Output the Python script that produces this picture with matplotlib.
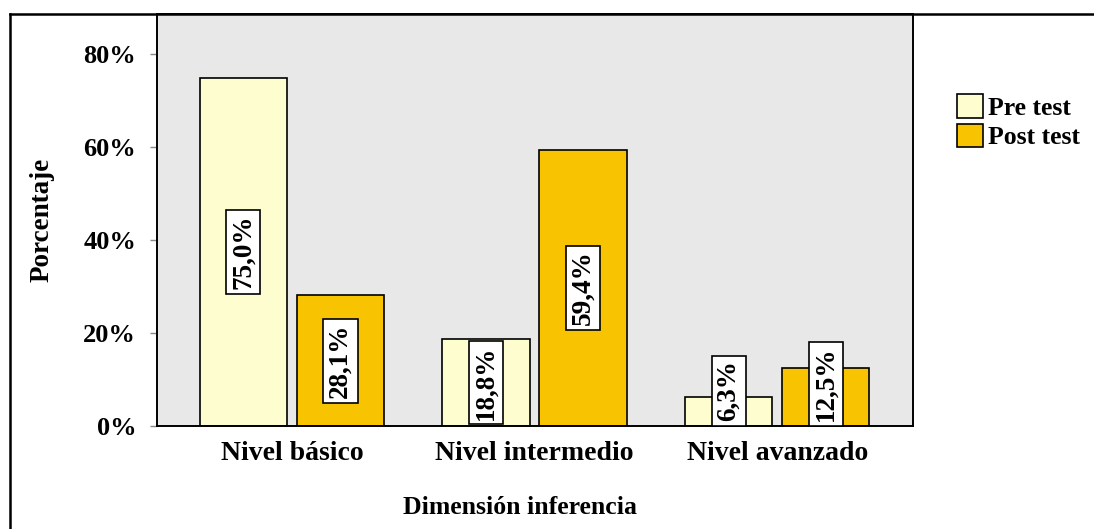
import matplotlib
matplotlib.use("Agg")
import matplotlib.pyplot as plt
from matplotlib.lines import Line2D
from matplotlib.patches import Patch
import numpy as np

# Data
categories = ["Nivel básico", "Nivel intermedio", "Nivel avanzado"]
pre_test = [75.0, 18.8, 6.3]
post_test = [28.1, 59.4, 12.5]
series_names = ["Pre test", "Post test"]
y_ticks = [0, 20, 40, 60, 80]

# Styling
pre_color = "#fdfdcf"
post_color = "#f8c300"
plot_bg = "#e8e8e8"
font = "Liberation Serif"

plt.rcParams["font.family"] = [font, "DejaVu Serif"]
plt.rcParams["font.weight"] = "bold"

W, H = 1094, 529
fig = plt.figure(figsize=(W / 100, H / 100), dpi=100)
ax = fig.add_axes([157 / W, 1 - 426 / H, (913 - 157) / W, (426 - 14) / H])
ax.set_facecolor(plot_bg)

x = np.arange(len(categories))
width = 0.36
offset = 0.2
bars_pre = ax.bar(x - offset, pre_test, width, color=pre_color,
                  edgecolor="black", linewidth=1.2, zorder=2)
bars_post = ax.bar(x + offset, post_test, width, color=post_color,
                   edgecolor="black", linewidth=1.2, zorder=2)

ax.set_xlim(-0.556, 2.56)
ax.set_ylim(0, 88.7)
ax.set_yticks(y_ticks)
ax.set_yticklabels([f"{t}%" for t in y_ticks], fontsize=19, fontweight="bold")
ax.set_xticks(x)
ax.set_xticklabels(categories, fontsize=20, fontweight="bold")
ax.tick_params(axis="y", direction="out", length=5, width=1, color="#888888", pad=10)
ax.tick_params(axis="x", length=0, pad=11)
for s in ax.spines.values():
    s.set_color("black")
    s.set_linewidth(1.4)

ax.set_ylabel("Porcentaje", fontsize=19.5, fontweight="bold")
ax.yaxis.set_label_coords(-0.135, 0.5)
ax.set_xlabel("Dimensión inferencia", fontsize=18.5, fontweight="bold")
ax.xaxis.set_label_coords(0.48, -0.17)

# Value labels: rotated text in white boxes, centred on the bar,
# but never reaching below the baseline.
fig.canvas.draw()
renderer = fig.canvas.get_renderer()
to_data = ax.transData.inverted()
for bars, vals in ((bars_pre, pre_test), (bars_post, post_test)):
    for b, v in zip(bars, vals):
        cx = b.get_x() + b.get_width() / 2
        t = ax.text(cx, v / 2, f"{v:.1f}%".replace(".", ","), rotation=90,
                    ha="center", va="center", fontsize=19.5, fontweight="bold",
                    zorder=4,
                    bbox=dict(boxstyle="square,pad=0.17", facecolor="white",
                              edgecolor="black", linewidth=1.2))
        fig.canvas.draw()
        bb = t.get_bbox_patch().get_window_extent(renderer)
        y0 = to_data.transform((0, bb.y0))[1]
        if y0 < 0:
            t.set_y(v / 2 - y0)

# Legend
handles = [Patch(facecolor=pre_color, edgecolor="black", linewidth=1.2),
           Patch(facecolor=post_color, edgecolor="black", linewidth=1.2)]
fig.legend(handles, series_names, loc="upper left",
           bbox_to_anchor=(957 / W, 1 - 94 / H), frameon=False,
           prop={"family": font, "weight": "bold", "size": 18.5},
           handlelength=1.0, handleheight=1.05, handletextpad=0.2,
           labelspacing=0.15, borderpad=0.0, borderaxespad=0.0)

# Outer frame lines (top and left)
fig.add_artist(Line2D([10 / W, 10 / W], [0, 1 - 14 / H], transform=fig.transFigure,
                      color="black", linewidth=1.8))
fig.add_artist(Line2D([10 / W, 1], [1 - 14 / H, 1 - 14 / H], transform=fig.transFigure,
                      color="black", linewidth=1.8))

fig.savefig("out.png", dpi=100, facecolor="white")
